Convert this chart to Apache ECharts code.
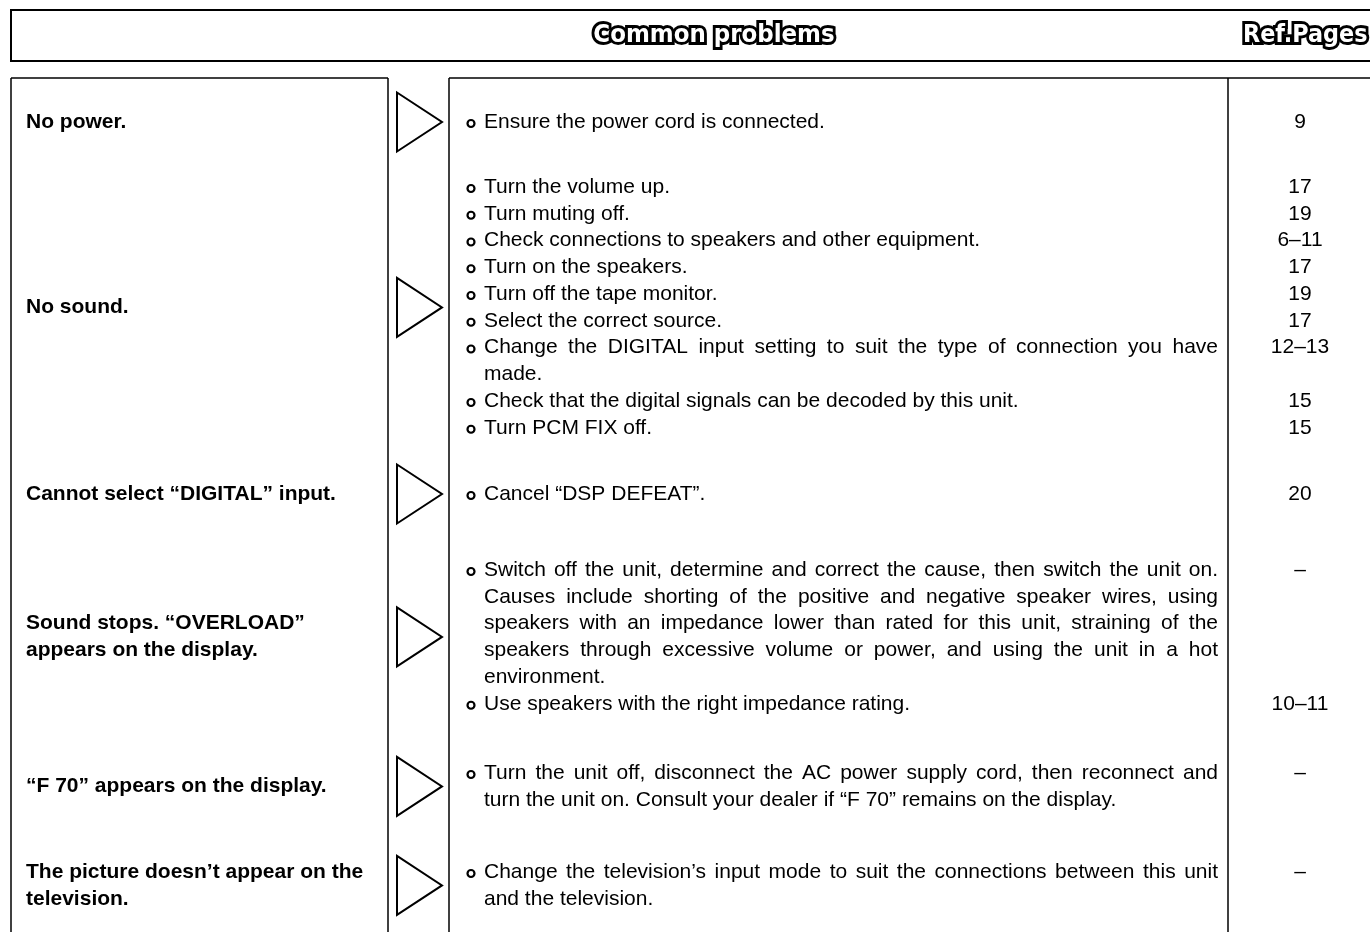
<!DOCTYPE html>
<html>
<head>
<meta charset="utf-8">
<script src="https://cdn.jsdelivr.net/npm/echarts@6/dist/echarts.min.js"></script>
<style>
html,body{margin:0;padding:0;background:#fff;}
#chart{width:1370px;height:932px;}
</style>
</head>
<body>
<div id="chart"></div>
<script>
// ---------- DATA ----------
const headerTitle = "Common problems";
const headerRef = "Ref.Pages";

const problems = [
  "No power.",
  "No sound.",
  "Cannot select \u201cDIGITAL\u201d input.",
  "Sound stops. \u201cOVERLOAD\u201d\nappears on the display.",
  "\u201cF 70\u201d appears on the display.",
  "The picture doesn\u2019t appear on the\ntelevision."
];

const remedies = [
  [["Ensure the power cord is connected."]],
  [["Turn the volume up."],
   ["Turn muting off."],
   ["Check connections to speakers and other equipment."],
   ["Turn on the speakers."],
   ["Turn off the tape monitor."],
   ["Select the correct source."],
   ["Change the DIGITAL input setting to suit the type of connection you have", "made."],
   ["Check that the digital signals can be decoded by this unit."],
   ["Turn PCM FIX off."]],
  [["Cancel \u201cDSP DEFEAT\u201d."]],
  [["Switch off the unit, determine and correct the cause, then switch the unit on.",
    "Causes include shorting of the positive and negative speaker wires, using",
    "speakers with an impedance lower than rated for this unit, straining of the",
    "speakers through excessive volume or power, and using the unit in a hot",
    "environment."],
   ["Use speakers with the right impedance rating."]],
  [["Turn the unit off, disconnect the AC power supply cord, then reconnect and",
    "turn the unit on. Consult your dealer if \u201cF 70\u201d remains on the display."]],
  [["Change the television\u2019s input mode to suit the connections between this unit",
    "and the television."]]
];

const refPages = [
  ["9"],
  ["17", "19", "6\u201311", "17", "19", "17", "12\u201313", "15", "15"],
  ["20"],
  ["\u2013", "10\u201311"],
  ["\u2013"],
  ["\u2013"]
];

// ---------- LAYOUT / STYLE ----------
const FONT_FAMILY = '"Liberation Sans", Arial, Helvetica, sans-serif';
const TITLE_FAMILY = '"DejaVu Sans", "Liberation Sans", sans-serif';
const FS = 21;
const rowFirstY = [122, 187, 494, 570, 773, 872];
const lineH = 26.75;
const X_LEFT = 11, X_MIDL = 388, X_MIDR = 449, X_REF = 1228, X_END = 1372;
const Y_HEAD_T = 10, Y_HEAD_B = 61, Y_BODY_T = 78, Y_BOTTOM = 940;
const X_PROB = 26, X_BULLET = 471, X_TEXT = 484, X_JUST_END = 1218, X_REFC = 1300;

const mctx = document.createElement('canvas').getContext('2d');
function measure(t, font) { mctx.font = font; return mctx.measureText(t).width; }

const els = [];
function line(x1, y1, x2, y2, w) {
  els.push({ type: 'line', shape: { x1, y1, x2, y2 }, style: { stroke: '#000', lineWidth: w || 1.5 }, silent: true });
}
function text(t, x, y, opt) {
  opt = opt || {};
  const st = {
    text: t,
    fill: opt.fill || '#000',
    fontSize: opt.fontSize || FS,
    fontFamily: opt.fontFamily || FONT_FAMILY,
    fontWeight: opt.fontWeight || 'normal',
    textAlign: opt.align || 'left', align: opt.align || 'left',
    textVerticalAlign: 'middle', verticalAlign: 'middle'
  };
  if (opt.stroke) { st.stroke = opt.stroke; st.lineWidth = opt.lineWidth; st.lineJoin = 'round'; }
  els.push({ type: 'text', x, y, scaleX: opt.scaleX || 1, style: st, silent: true, z: opt.z || 10 });
}

// frame lines
line(X_LEFT - 1, Y_HEAD_T, X_END, Y_HEAD_T, 2);
line(X_LEFT - 1, Y_HEAD_B, X_END, Y_HEAD_B, 2);
line(X_LEFT, Y_HEAD_T, X_LEFT, Y_HEAD_B, 2);
line(X_LEFT, Y_BODY_T, X_MIDL, Y_BODY_T, 1.5);
line(X_MIDR, Y_BODY_T, X_END, Y_BODY_T, 1.5);
line(X_LEFT, Y_BODY_T, X_LEFT, Y_BOTTOM, 1.5);
line(X_MIDL, Y_BODY_T, X_MIDL, Y_BOTTOM, 1.5);
line(X_MIDR, Y_BODY_T, X_MIDR, Y_BOTTOM, 1.5);
line(X_REF, Y_BODY_T, X_REF, Y_BOTTOM, 1.5);

// header outlined titles
function outlined(t, x, y, targetW, align) {
  const fs = 24;
  const nat = measure(t, `bold ${fs}px ${TITLE_FAMILY}`) + 6;
  const sx = targetW / nat;
  text(t, x, y, { fontSize: fs, fontFamily: TITLE_FAMILY, fontWeight: 'bold', fill: '#000', stroke: '#000', lineWidth: 6, align, scaleX: sx, z: 10 });
  text(t, x, y, { fontSize: fs, fontFamily: TITLE_FAMILY, fontWeight: 'bold', fill: '#fff', align, scaleX: sx, z: 11 });
}
outlined(headerTitle, 714, 36, 247, 'center');
outlined(headerRef, 1243, 36, 130, 'left');

// rows
const bodyFont = `${FS}px ${FONT_FAMILY}`;
problems.forEach((prob, r) => {
  let k = 0;
  remedies[r].forEach((rem, i) => {
    const y0 = rowFirstY[r] + k * lineH;
    els.push({ type: 'circle', shape: { cx: X_BULLET, cy: y0 + 1.5, r: 3.5 }, style: { fill: '#fff', stroke: '#000', lineWidth: 2.2 }, silent: true });
    if (refPages[r][i] !== undefined) text(refPages[r][i], X_REFC, y0, { align: 'center' });
    rem.forEach((ln, j) => {
      const y = rowFirstY[r] + k * lineH;
      const justify = rem.length > 1 && j < rem.length - 1;
      const target = X_JUST_END - X_TEXT;
      if (justify) {
        const words = ln.split(' ');
        const ww = words.map(w => measure(w, bodyFont));
        const sum = ww.reduce((a, b) => a + b, 0);
        const natural = measure(ln, bodyFont);
        if (natural >= target) {
          text(ln, X_TEXT, y, { scaleX: target / natural });
        } else {
          const gap = (target - sum) / (words.length - 1);
          let x = X_TEXT;
          words.forEach((w, wi) => { text(w, x, y); x += ww[wi] + gap; });
        }
      } else {
        text(ln, X_TEXT, y);
      }
      k++;
    });
  });
  const last = rowFirstY[r] + (k - 1) * lineH;
  const cy = (rowFirstY[r] + last) / 2;
  const pl = prob.split('\n');
  pl.forEach((p, j) => {
    text(p, X_PROB, cy + (j - (pl.length - 1) / 2) * lineH, { fontWeight: 'bold' });
  });
  els.push({ type: 'polygon', shape: { points: [[397, cy - 29.5], [397, cy + 29.5], [442, cy]] },
    style: { fill: '#fff', stroke: '#000', lineWidth: 2, lineJoin: 'miter' }, silent: true });
});

const chart = echarts.init(document.getElementById('chart'), null, { renderer: 'canvas' });
chart.setOption({ backgroundColor: '#fff', animation: false, graphic: { elements: els } });
</script>
</body>
</html>
